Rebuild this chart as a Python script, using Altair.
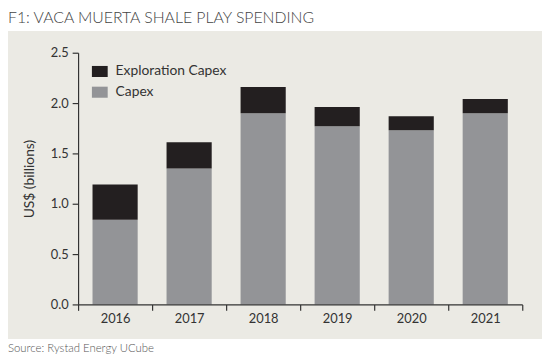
import altair as alt
import pandas as pd

years = ["2016", "2017", "2018", "2019", "2020", "2021"]
capex = [0.84, 1.35, 1.90, 1.77, 1.73, 1.90]
exploration = [0.35, 0.26, 0.26, 0.19, 0.14, 0.14]
series = ["Exploration Capex", "Capex"]
colors = ["#231f20", "#939497"]
y_ticks = [0.0, 0.5, 1.0, 1.5, 2.0, 2.5]

rows = []
for i, yr in enumerate(years):
    rows.append({"year": yr, "series": "Capex", "value": capex[i], "ord": 0})
    rows.append({"year": yr, "series": "Exploration Capex", "value": exploration[i], "ord": 1})
df = pd.DataFrame(rows)

FONT = "Lato"
TXT = "#333333"

# decorative background panel (relative to plot origin)
panel = alt.Chart(pd.DataFrame({"a": [0]})).mark_rect(color="#ebeae4").encode(
    x=alt.value(-71), x2=alt.value(470), y=alt.value(-22), y2=alt.value(290)
)

title = alt.Chart(pd.DataFrame({"t": ["F1:  VACA MUERTA SHALE PLAY SPENDING"]})).mark_text(
    align="left", baseline="top", font=FONT, fontSize=16, fontWeight=300, color="#444444"
).encode(text="t:N", x=alt.value(-71), y=alt.value(-43))

source = alt.Chart(pd.DataFrame({"t": ["Source: Rystad Energy UCube"]})).mark_text(
    align="left", baseline="middle", font=FONT, fontSize=11.5, fontWeight=300, color="#555555"
).encode(text="t:N", x=alt.value(-71), y=alt.value(300))

bars = alt.Chart(df).mark_bar(width=alt.RelativeBandSize(0.61)).encode(
    x=alt.X("year:N", sort=years, title=None,
            scale=alt.Scale(paddingInner=0, paddingOuter=0),
            axis=alt.Axis(tickBand="extent", labelAngle=0, domainColor=TXT, tickColor=TXT,
                          tickSize=6, labelPadding=2, labelFontSize=13, labelColor=TXT,
                          labelFont=FONT, domainWidth=1.2, tickWidth=1.2, zindex=1)),
    y=alt.Y("value:Q", stack="zero", title="US$ (billions)",
            scale=alt.Scale(domain=[0, 2.5], nice=False),
            axis=alt.Axis(values=y_ticks, format=".1f", grid=False, domainColor=TXT,
                          tickColor=TXT, tickSize=6, labelPadding=4, labelFontSize=13,
                          labelColor=TXT, labelFont=FONT, titleFont=FONT, titleFontSize=14,
                          titleFontWeight="normal", titleColor=TXT, titlePadding=14,
                          domainWidth=1.2, tickWidth=1.2, zindex=1)),
    color=alt.Color("series:N", scale=alt.Scale(domain=series, range=colors),
                    legend=alt.Legend(title=None, orient="none", legendX=14, legendY=11,
                                      symbolType="M-1,-0.7H1V0.7H-1Z", symbolSize=256,
                                      symbolStrokeWidth=0, symbolOpacity=1,
                                      labelFontSize=14, labelColor=TXT, labelFont=FONT,
                                      labelOffset=8, rowPadding=6, padding=0)),
    order=alt.Order("ord:Q"),
)

chart = alt.layer(panel, bars, title, source).properties(
    width=450, height=255,
    autosize=alt.AutoSizeParams(type="none"),
    padding={"left": 71, "top": 43, "right": 20, "bottom": 55},
    background="white",
).configure_view(stroke=None)

chart.save("out.html", embed_options={"renderer": "svg", "actions": False})
